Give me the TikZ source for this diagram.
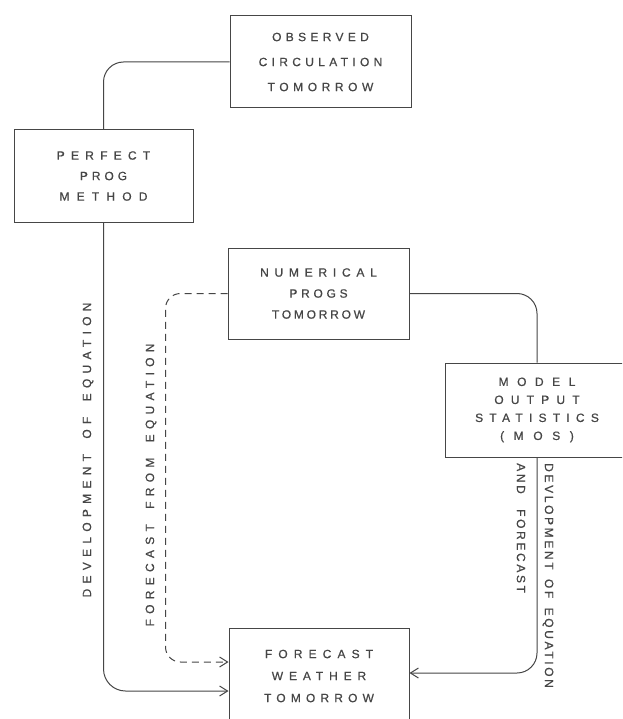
\documentclass[tikz,border=0pt]{standalone}
\usepackage{fontspec}
\setmainfont[FakeBold=0.6]{Liberation Sans}
\usetikzlibrary{arrows.meta}
\definecolor{ink}{RGB}{70,70,70}
\definecolor{txt}{RGB}{70,70,70}
\newcommand{\ls}[2]{{\addfontfeature{LetterSpace=#1}#2}}
\tikzset{
  box/.style={draw=ink, line width=1pt, inner sep=0pt, align=center, text=txt},
  conn/.style={draw=ink, line width=1pt, rounded corners=20pt},
  arr/.style={-{Straight Barb[length=8pt,width=10pt]}},
  lab/.style={text=txt, inner sep=0pt, font=\fontsize{12}{14}\selectfont}
}
\begin{document}
\begin{tikzpicture}[x=1pt,y=-1pt]
\useasboundingbox (0,0) rectangle (622,719);
\clip (0,0) rectangle (622,719);
\fill[white] (0,0) rectangle (622,719);

\node[box, minimum width=181pt, minimum height=92pt, font=\fontsize{12}{25}\selectfont] (obs) at (320.5,62)
  {\ls{36}{OBSERVED}\\\ls{36}{CIRCULATION}\\\ls{38}{TOMORROW}};
\node[box, minimum width=179pt, minimum height=92pt, font=\fontsize{12}{20.5}\selectfont] (perf) at (103.5,176)
  {\ls{52}{PERFECT}\\\ls{33}{PROG}\\\ls{60}{METHOD}};
\node[box, minimum width=181pt, minimum height=91pt, font=\fontsize{12}{21}\selectfont] (num) at (318.5,293.5)
  {\ls{48}{NUMERICAL}\\\ls{31}{PROGS}\\\ls{23}{TOMORROW}};
\node[box, minimum width=184pt, minimum height=94pt, font=\fontsize{12}{18}\selectfont] (mos) at (537,410)
  {\ls{71}{MODEL}\\\ls{60}{OUTPUT}\\\ls{52}{STATISTICS}\\\ls{80}{(MOS)}};
\node[box, minimum width=180pt, minimum height=96pt, font=\fontsize{12}{22}\selectfont] (fc) at (319,676)
  {\ls{51}{FORECAST}\\\ls{49}{WEATHER}\\\ls{43}{TOMORROW}};

\draw[conn] (obs.west) -| (perf.north);
\draw[conn, rounded corners=22pt, arr] (perf.south) |- ([yshift=-15pt]fc.west);
\draw[conn, rounded corners=15pt, dashed, dash pattern=on 7pt off 5pt, arr]
  (num.west) -| ([xshift=-63pt,yshift=14pt]fc.west) -- ([yshift=14pt]fc.west);
\draw[conn] (num.east) -| (mos.north);
\draw[conn, arr] (mos.south) |- ([yshift=3pt]fc.east);

\node[lab, rotate=90] (l1) at (88,450)
  {\ls{44}{DEVELOPMENT}\hspace{12pt} \ls{44}{OF}\hspace{12pt} \ls{44}{EQUATION}};
\node[lab, rotate=90] (l2) at (151,485)
  {\ls{44}{FORECAST}\hspace{12pt} \ls{44}{FROM}\hspace{12pt} \ls{44}{EQUATION}};
\node[lab, rotate=-90, anchor=west] (l3) at (548,463)
  {\ls{22}{DEVLOPMENT}\hspace{6pt} \ls{22}{OF}\hspace{6pt} \ls{22}{EQUATION}};
\node[lab, rotate=-90, anchor=west] (l4) at (521,463)
  {\ls{22}{AND}\hspace{12pt} \ls{22}{FORECAST}};
\end{tikzpicture}
\end{document}
